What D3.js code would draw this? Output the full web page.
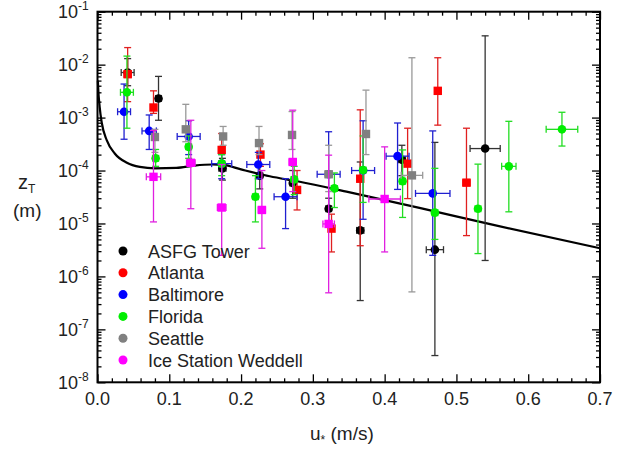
<!DOCTYPE html>
<html><head><meta charset="utf-8">
<script src="https://cdn.jsdelivr.net/npm/d3@7"></script>
<style>body{margin:0;background:#fff}svg{display:block;font-family:"Liberation Sans",Arial,sans-serif}</style>
</head><body><svg id="c" width="626" height="452"></svg>
<script>
// each point: [u*, zT, zT low, zT high, u* half-error]
const seriesNames = ["ASFG Tower","Atlanta","Baltimore","Florida","Seattle","Ice Station Weddell"];
const seriesColors = ["#000000","#ff0000","#0000ff","#00ee00","#808080","#ff00ff"];
const errColors = ["#333333","#e02020","#2020d0","#22dd22","#999999","#e020e0"];
const seriesShapes = ["circle","square","circle","circle","square","square"];

const asfg = [[0.042,7.1e-3,4e-3,1.3e-2,0.009],[0.085,2.3e-3,8.9e-4,6.0e-3,0.004],[0.174,1.1e-4,6.6e-5,1.7e-4,0.005],
 [0.226,8e-5,4.5e-5,1.3e-4,0.004],[0.272,5.8e-5,3e-5,1e-4,0.004],[0.322,1.9e-5,1e-5,3e-5,0.004],
 [0.366,7.4e-6,3.5e-7,1.45e-4,0.005],[0.424,1.6e-4,8e-5,3e-4,0.005],[0.47,3.2e-6,3.2e-8,3.4e-4,0.012],[0.54,2.6e-4,2e-6,3.5e-2,0.021]];
const atlanta = [[0.042,6.6e-3,2.0e-3,2.1e-2,0.005],[0.078,1.55e-3,1.2e-3,3.2e-3,0.004],[0.173,2.45e-4,1.5e-4,5e-4,0.004],
 [0.227,2.0e-4,1.2e-4,3.2e-4,0.004],[0.278,4.3e-5,1.8e-5,1e-4,0.004],[0.326,8e-6,2.9e-6,1.5e-5,0.004],
 [0.366,7e-5,3.8e-6,1.4e-3,0.004],[0.432,1.35e-4,2.95e-5,6.3e-4,0.004],[0.474,3.2e-3,7.2e-4,1.35e-2,0.004],[0.514,5.9e-5,5.9e-6,6.3e-4,0.005]];
const baltimore = [[0.037,1.29e-3,3.9e-4,4.3e-3,0.009],[0.072,5.6e-4,2.5e-4,1.12e-3,0.01],[0.127,4.4e-4,2.0e-4,8.7e-4,0.016],
 [0.173,1.35e-4,7e-5,2e-4,0.014],[0.224,1.3e-4,7e-5,2.2e-4,0.016],[0.262,3.2e-5,8e-6,7e-5,0.016],
 [0.322,8.5e-5,1e-5,5.4e-4,0.016],[0.37,1e-4,1.2e-5,8.7e-4,0.016],[0.418,1.87e-4,4.4e-5,7.9e-4,0.016],[0.467,3.7e-5,2.5e-6,5.6e-4,0.024]];
const florida = [[0.041,3.0e-3,6.3e-4,1.45e-2,0.009],[0.081,1.7e-4,1.2e-4,2.5e-4,0.004],[0.127,2.8e-4,1.7e-4,4.5e-4,0.004],
 [0.173,1.35e-4,8e-5,2e-4,0.004],[0.22,3.2e-5,1.07e-5,8e-5,0.004],[0.274,6.8e-5,3.5e-5,1.2e-4,0.004],
 [0.33,4.6e-5,2e-5,9e-5,0.004],[0.37,1.02e-4,2.5e-5,4.5e-4,0.004],[0.425,6.3e-5,1.3e-5,2.45e-4,0.004],
 [0.47,1.6e-5,5e-6,1.1e-4,0.004],[0.53,1.9e-5,2.7e-6,1.32e-4,0.004],[0.573,1.2e-4,1.66e-5,8.5e-4,0.01],[0.647,6e-4,2.9e-4,1.26e-3,0.022]];
const seattle = [[0.08,4.3e-4,2.2e-4,6e-4,0.004],[0.123,6e-4,3.5e-4,1.78e-3,0.004],[0.175,4.4e-4,3e-4,6.8e-4,0.004],
 [0.225,3.3e-4,2e-4,6.8e-4,0.004],[0.271,4.7e-4,2.5e-4,1.3e-3,0.004],[0.322,8.5e-5,4e-5,3e-4,0.005],
 [0.374,4.9e-4,2e-4,3.3e-3,0.004],[0.438,8.1e-5,5.1e-7,1.35e-2,0.015]];
const weddell = [[0.078,7.6e-5,1.07e-5,5.7e-4,0.01],[0.13,1.4e-4,1.9e-5,8.9e-4,0.006],[0.173,2.0e-5,2.5e-6,1.3e-4,0.006],
 [0.229,1.8e-5,3.4e-6,1e-4,0.005],[0.272,1.45e-4,4e-5,1.38e-3,0.005],[0.322,9.8e-6,4.9e-7,1.95e-4,0.008],[0.40,2.9e-5,2.9e-6,2.8e-4,0.022]];
const seriesData = [asfg, atlanta, baltimore, florida, seattle, weddell];

// model curve
const curveU = [0.0005,0.001,0.003,0.006,0.013,0.024,0.041,0.059,0.08,0.11,0.135,0.16,0.175,0.2,0.24,0.28,0.35,0.45,0.55,0.7];
const curveZ = [5e-3,3.5e-3,1.6e-3,7.9e-4,3.7e-4,2.1e-4,1.4e-4,1.17e-4,1.1e-4,1.12e-4,1.24e-4,1.3e-4,1.28e-4,1.05e-4,7.8e-5,6.2e-5,3.9e-5,1.95e-5,9.5e-6,3.4e-6];

const xMajor = [0,0.1,0.2,0.3,0.4,0.5,0.6,0.7];
const xTickLabels = ["0.0","0.1","0.2","0.3","0.4","0.5","0.6","0.7"];
const yExponents = [-1,-2,-3,-4,-5,-6,-7,-8];

const svg = d3.select("#c");
const x = d3.scaleLinear().domain([0,0.7]).range([97.5,600]);
const y = d3.scaleLog().domain([1e-8,1e-1]).range([382.3,11.7]);
const L=x.range()[0], R=x.range()[1], T=y.range()[1], B=y.range()[0];

// minor ticks
const xMinor = d3.range(0,0.7001,0.02).filter(v=>Math.abs(v*10-Math.round(v*10))>1e-6);
const yMinor = [];
for(let e=-8;e<-1;e++) for(let k=2;k<=9;k++) yMinor.push(k*Math.pow(10,e));
const yMajor = yExponents.map(e=>Math.pow(10,e));

function axisG(axis){ return svg.append("g").call(axis).call(g=>{g.select(".domain").remove();g.selectAll("line").attr("stroke","#000").attr("stroke-width",1.3);g.selectAll("text").remove();}); }
axisG(d3.axisBottom(x).tickValues(xMajor).tickSize(-8)).attr("transform",`translate(0,${B})`);
axisG(d3.axisBottom(x).tickValues(xMinor).tickSize(-4)).attr("transform",`translate(0,${B})`);
axisG(d3.axisTop(x).tickValues(xMajor).tickSize(-8)).attr("transform",`translate(0,${T})`);
axisG(d3.axisTop(x).tickValues(xMinor).tickSize(-4)).attr("transform",`translate(0,${T})`);
axisG(d3.axisLeft(y).tickValues(yMajor).tickSize(-8)).attr("transform",`translate(${L},0)`);
axisG(d3.axisLeft(y).tickValues(yMinor).tickSize(-4)).attr("transform",`translate(${L},0)`);
axisG(d3.axisRight(y).tickValues(yMajor).tickSize(-8)).attr("transform",`translate(${R},0)`);
axisG(d3.axisRight(y).tickValues(yMinor).tickSize(-4)).attr("transform",`translate(${R},0)`);

// tick labels
svg.append("g").selectAll("text").data(xMajor).join("text")
  .attr("x",d=>x(d)).attr("y",B+23).attr("text-anchor","middle").attr("font-size",18).attr("fill","#222")
  .text((d,i)=>xTickLabels[i]);
const yl = svg.append("g").selectAll("text").data(yExponents).join("text")
  .attr("x",58).attr("y",d=>y(Math.pow(10,d))+6.5).attr("font-size",18).attr("fill","#222");
yl.append("tspan").text("10");
yl.append("tspan").attr("dy",-8).attr("font-size",12).text(d=>String(d));

// curve
svg.append("path").datum(curveU.map((u,i)=>[u,curveZ[i]]))
  .attr("d",d3.line().x(d=>x(d[0])).y(d=>y(d[1])).curve(d3.curveMonotoneX))
  .attr("fill","none").attr("stroke","#000").attr("stroke-width",2.2);

// points with error bars
const cap=3.5;
seriesData.forEach((data,si)=>{
  const g = svg.append("g");
  const ec = errColors[si];
  data.forEach(p=>{
    const [u,z,lo,hi,xe]=p;
    const px=x(u), py=y(z);
    const e = g.append("g").attr("stroke",ec).attr("stroke-width",1.3);
    e.append("line").attr("x1",px).attr("x2",px).attr("y1",y(lo)).attr("y2",y(hi));
    e.append("line").attr("x1",px-cap).attr("x2",px+cap).attr("y1",y(lo)).attr("y2",y(lo));
    e.append("line").attr("x1",px-cap).attr("x2",px+cap).attr("y1",y(hi)).attr("y2",y(hi));
    const x0=x(u-xe), x1=x(u+xe);
    e.append("line").attr("x1",x0).attr("x2",x1).attr("y1",py).attr("y2",py);
    e.append("line").attr("x1",x0).attr("x2",x0).attr("y1",py-cap).attr("y2",py+cap);
    e.append("line").attr("x1",x1).attr("x2",x1).attr("y1",py-cap).attr("y2",py+cap);
    if(seriesShapes[si]==="circle") g.append("circle").attr("cx",px).attr("cy",py).attr("r",4.3).attr("fill",seriesColors[si]);
    else g.append("rect").attr("x",px-4.2).attr("y",py-4.2).attr("width",8.4).attr("height",8.4).attr("fill",seriesColors[si]);
  });
});

// frame
svg.append("rect").attr("x",L).attr("y",T).attr("width",R-L).attr("height",B-T)
  .attr("fill","none").attr("stroke","#000").attr("stroke-width",2);

// legend
const lg = svg.append("g").selectAll("g").data(seriesNames).join("g")
  .attr("transform",(d,i)=>`translate(123,${251+i*21.8})`);
lg.append("circle").attr("r",4.5).attr("fill",(d,i)=>seriesColors[i]);
lg.append("text").attr("x",25).attr("y",6.5).attr("font-size",18).attr("fill","#222").text(d=>d);

// axis titles
const xt = svg.append("text").attr("x",310).attr("y",440).attr("font-size",19).attr("fill","#222");
xt.append("tspan").text("u");
xt.append("tspan").attr("dy",4).attr("font-size",12).text("*");
xt.append("tspan").attr("dy",-4).text(" (m/s)");
const yt = svg.append("text").attr("x",18).attr("y",189).attr("font-size",20).attr("fill","#222");
yt.append("tspan").text("z");
yt.append("tspan").attr("dy",4).attr("font-size",12).text("T");
svg.append("text").attr("x",13).attr("y",217).attr("font-size",19).attr("fill","#222").text("(m)");
</script></body></html>
